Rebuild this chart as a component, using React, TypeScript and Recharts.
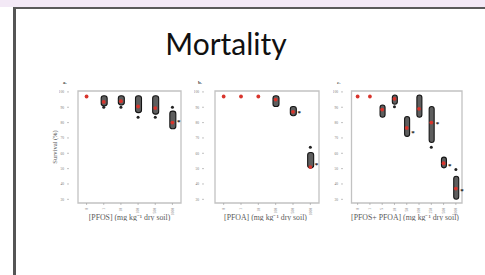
import React from 'react';
import { ComposedChart, Bar, Scatter, XAxis, YAxis, ReferenceArea } from 'recharts';

// ---- data (survival %) ----
const yTicks = [30, 40, 50, 60, 70, 80, 90, 100];

const pfosDoses = ['0', '1', '10', '100', '500', '1000'];
const pfosBoxLow = [null, 91, 91.5, 86.5, 85.5, 76];
const pfosBoxHigh = [null, 97.5, 97.5, 97.5, 97.5, 87.5];
const pfosMean = [97, 93.5, 94, 90.5, 89.5, 80];
const pfosOutlier = [null, 90, 90, 83.5, 83.5, 90];
const pfosSignif = [null, null, null, null, null, 81];

const pfoaDoses = ['0', '1', '10', '100', '500', '1000'];
const pfoaBoxLow = [null, null, null, 90.5, 84.5, 50.5];
const pfoaBoxHigh = [null, null, null, 97.5, 90.5, 60.5];
const pfoaMean = [97, 97, 97, 95, 87, 51];
const pfoaOutlier = [null, null, null, null, null, 64];
const pfoaSignif = [null, null, null, null, 87, 53];

const mixDoses = ['0', '1', '5', '10', '50', '100', '250', '500', '1000'];
const mixBoxLow = [null, null, 83.5, 92, 71, 83.5, 67, 50.5, 30];
const mixBoxHigh = [null, null, 91.5, 98, 84, 98, 90.5, 57.5, 45];
const mixMean = [97, 97, 88.5, 95.5, 76.5, 89, 80, 53.5, 37];
const mixOutlier = [null, null, null, 90.3, null, null, 64, null, 49.5];
const mixSignif = [null, null, null, null, 74, null, 80, 52.5, 36];

type Row = { dose: string; box: [number, number] | null; mean: number | null; out: number | null; sig: number | null };

function buildRows(d: string[], lo: (number | null)[], hi: (number | null)[], m: (number | null)[], o: (number | null)[], s: (number | null)[]): Row[] {
  return d.map((dose, i) => ({
    dose,
    box: lo[i] != null && hi[i] != null ? [lo[i] as number, hi[i] as number] : null,
    mean: m[i],
    out: o[i],
    sig: s[i],
  }));
}

const pfosRows = buildRows(pfosDoses, pfosBoxLow, pfosBoxHigh, pfosMean, pfosOutlier, pfosSignif);
const pfoaRows = buildRows(pfoaDoses, pfoaBoxLow, pfoaBoxHigh, pfoaMean, pfoaOutlier, pfoaSignif);
const mixRows = buildRows(mixDoses, mixBoxLow, mixBoxHigh, mixMean, mixOutlier, mixSignif);

const Y_DOMAIN: [number, number] = [27.6, 100.6];
const YW = 10;
const TM = 4;
const PLOT_H = 112;
const XH = 18;

const valid = (p: any) => p && typeof p.cy === 'number' && !isNaN(p.cy) && typeof p.cx === 'number';

const BoxShape = (p: any) => {
  const { x, y, width, height } = p;
  if (typeof y !== 'number' || isNaN(y) || !height) return null;
  const h = Math.abs(height);
  const top = height < 0 ? y + height : y;
  return <rect x={x} y={top} width={width} height={h} rx={Math.min(width / 2, 2.6)} fill="#5e5e5e" stroke="#151515" strokeWidth={1.1} />;
};

const MeanShape = (p: any) => (valid(p) && p.payload?.mean != null ? <circle cx={p.cx} cy={p.cy} r={1.9} fill="#d8342c" /> : null);
const OutShape = (p: any) => (valid(p) && p.payload?.out != null ? <circle cx={p.cx} cy={p.cy} r={1.5} fill="#222" /> : null);
const SigShape = (p: any) =>
  valid(p) && p.payload?.sig != null ? (
    <text x={p.cx + 4.5} y={p.cy + 3.2} fontSize={7} fontWeight="bold" fill="#111" fontFamily="Liberation Serif">*</text>
  ) : null;

const XTick = (p: any) => {
  const { x, y, payload } = p;
  const ty = y + 1;
  return (
    <text x={x} y={ty} dy={1.2} transform={`rotate(-90, ${x}, ${ty})`} textAnchor="end" fontSize={3.6} fill="#777" fontFamily="Liberation Serif">
      {payload.value}
    </text>
  );
};

const YTick = (p: any) => {
  const { x, y, payload } = p;
  return (
    <text x={x - 1} y={y} dy={1.3} textAnchor="end" fontSize={3.6} fill="#777" fontFamily="Liberation Serif">
      {payload.value}
    </text>
  );
};

type PanelProps = { frameLeft: number; frameTop: number; plotW: number; rows: Row[]; padL: number; padR: number; barSize: number; xLabel: string; letter: string };

function Panel({ frameLeft, frameTop, plotW, rows, padL, padR, barSize, xLabel, letter }: PanelProps) {
  const w = YW + plotW + 2;
  const h = TM + PLOT_H + XH;
  return (
    <>
      <div style={{ position: 'absolute', left: frameLeft - 6, top: frameTop - 11, fontSize: 5, fontWeight: 'bold', color: '#444', fontFamily: 'Liberation Serif' }}>{letter}</div>
      <div style={{ position: 'absolute', left: frameLeft - YW, top: frameTop - TM }}>
        <ComposedChart width={w} height={h} data={rows} margin={{ top: TM, right: 2, left: 0, bottom: 0 }}>
          <XAxis dataKey="dose" type="category" padding={{ left: padL, right: padR }} axisLine={false} tickSize={2} tickLine={{ stroke: '#999', strokeWidth: 0.6 }} tick={<XTick />} interval={0} height={XH}
            label={{ value: xLabel, position: 'insideBottom', offset: 1, fontSize: 7.8, fill: '#5a5a5a', fontFamily: 'Liberation Serif' }} />
          <YAxis type="number" domain={Y_DOMAIN} ticks={yTicks} interval={0} allowDataOverflow width={YW} axisLine={false} tickSize={2} tickLine={{ stroke: '#999', strokeWidth: 0.6 }} tick={<YTick />} />
          <ReferenceArea y1={Y_DOMAIN[0]} y2={Y_DOMAIN[1]} fill="none" stroke="#c2c2c2" strokeWidth={1.3} ifOverflow="visible" />
          <Bar dataKey="box" barSize={barSize} shape={<BoxShape />} isAnimationActive={false} />
          <Scatter dataKey="out" shape={<OutShape />} isAnimationActive={false} />
          <Scatter dataKey="mean" shape={<MeanShape />} isAnimationActive={false} />
          <Scatter dataKey="sig" shape={<SigShape />} isAnimationActive={false} />
        </ComposedChart>
      </div>
    </>
  );
}

export default function App() {
  return (
    <div style={{ position: 'absolute', left: 0, top: 0, width: 485, height: 275, background: '#fff', overflow: 'hidden' }}>
      <div style={{ position: 'absolute', left: 0, top: 0, width: 485, height: 7, background: '#f3e9f6' }} />
      <div style={{ position: 'absolute', left: 13, top: 7, width: 480, height: 280, borderLeft: '3px solid #555', borderTop: '2.5px solid #5a5a5a', boxSizing: 'border-box' }} />
      <div style={{ position: 'absolute', left: 126, top: 25, width: 200, textAlign: 'center', fontFamily: 'Lato', fontSize: 30, lineHeight: '36px', color: '#111' }}>Mortality</div>
      <div style={{ position: 'absolute', left: 54, top: 147, transform: 'translate(-50%, -50%) rotate(-90deg)', fontFamily: 'Liberation Serif', fontSize: 6.5, color: '#555', whiteSpace: 'nowrap' }}>Survival (%)</div>
      <Panel frameLeft={69} frameTop={91} plotW={121} rows={pfosRows} padL={9} padR={9} barSize={6} xLabel="[PFOS] (mg kg⁻¹ dry soil)" letter="a." />
      <Panel frameLeft={204} frameTop={91} plotW={123} rows={pfoaRows} padL={11} padR={8} barSize={6} xLabel="[PFOA] (mg kg⁻¹ dry soil)" letter="b." />
      <Panel frameLeft={343} frameTop={91} plotW={124} rows={mixRows} padL={8.5} padR={5} barSize={5} xLabel="[PFOS+ PFOA] (mg kg⁻¹ dry soil)" letter="c." />
    </div>
  );
}
